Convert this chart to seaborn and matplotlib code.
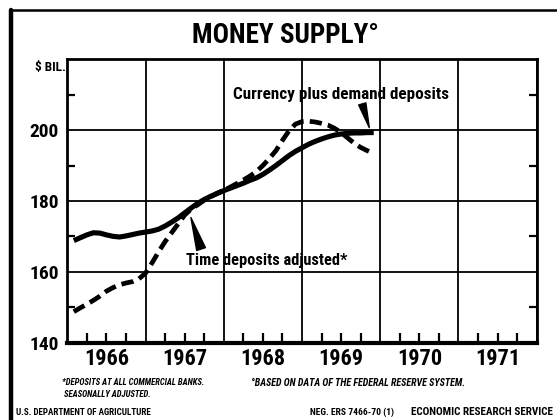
import numpy as np
import pandas as pd
import matplotlib
matplotlib.use("Agg")
import matplotlib.pyplot as plt
import seaborn as sns
from matplotlib.lines import Line2D

# ---------------- data ($ billion, monthly) ----------------
months = pd.date_range("1966-01", "1969-11", freq="MS")
currency_demand = [168.8, 169.6, 170.4, 171.0, 170.9, 170.4, 170.0, 169.8, 170.1, 170.5, 170.9, 171.2,
                   171.5, 172.0, 172.9, 174.0, 175.2, 176.6, 178.0, 179.3, 180.4, 181.3, 182.1, 182.9,
                   183.6, 184.3, 185.0, 185.8, 186.5, 187.5, 188.7, 190.0, 191.4, 192.8, 194.0, 195.0,
                   196.0, 196.8, 197.5, 198.1, 198.6, 198.9, 199.1, 199.2, 199.2, 199.3, 199.3]
time_deposits = [148.7, 149.8, 150.8, 151.9, 153.1, 154.5, 155.5, 156.3, 156.8, 157.2, 158.0, 159.6,
                 162.5, 165.6, 168.5, 171.0, 173.5, 176.0, 177.7, 178.9, 180.2, 181.2, 182.2, 183.0,
                 183.9, 184.9, 185.9, 187.0, 188.3, 190.0, 192.0, 194.2, 197.1, 199.8, 201.7, 202.4,
                 202.5, 202.3, 201.9, 201.4, 200.5, 199.3, 197.8, 196.3, 195.1, 194.2, 193.4]
year_labels = ["1966", "1967", "1968", "1969", "1970", "1971"]
y_labels = [140, 160, 180, 200]

t = months.year + months.month / 12.0
df = pd.DataFrame({"t": t, "currency": currency_demand, "time": time_deposits})

# ---------------- style ----------------
sns.set_theme(style="white")
FONT = ["Roboto Condensed", "DejaVu Sans"]
plt.rcParams["font.family"] = FONT
plt.rcParams["font.weight"] = "bold"
for k in ("text.color", "axes.labelcolor", "xtick.color", "ytick.color"):
    plt.rcParams[k] = "black"

fig = plt.figure(figsize=(5.57, 4.2), dpi=100)
ax = fig.add_axes([0.1208, 0.1845, 0.8428, 0.6743])

sns.lineplot(data=df, x="t", y="currency", ax=ax, color="black", lw=3.7,
             solid_capstyle="butt")
sns.lineplot(data=df, x="t", y="time", ax=ax, color="black", lw=3.4,
             linestyle=(0, (2.6, 1.3)), dash_capstyle="butt")

first_year = int(year_labels[0])
n_years = len(year_labels)
ax.set_xlim(first_year, first_year + n_years)
ax.set_ylim(y_labels[0], y_labels[-1] + 20)

# vertical grid at year boundaries
ax.set_xticks(np.arange(first_year, first_year + n_years + 1))
ax.set_xticklabels([])
ax.tick_params(axis="x", which="major", length=0)
# quarter ticks + year labels in the middle of each year
q_pos, q_lab = [], []
for i, yl in enumerate(year_labels):
    for q in (0.25, 0.5, 0.75):
        q_pos.append(first_year + i + q)
        q_lab.append(yl if q == 0.5 else "")
ax.set_xticks(q_pos, minor=True)
ax.set_xticklabels(q_lab, minor=True, fontsize=16, fontweight="bold")
ax.tick_params(axis="x", which="minor", direction="in", length=7, width=1.6,
               color="black", pad=4, bottom=True, top=False)

ax.set_yticks(y_labels)
ax.set_yticklabels([str(v) for v in y_labels], fontsize=14, fontweight="bold")
ax.tick_params(axis="y", which="major", length=0, pad=6)
ax.set_yticks([150, 170, 190, 210], minor=True)
ax.tick_params(axis="y", which="minor", direction="in", length=6, width=1.6,
               color="black", left=True, right=True)

ax.grid(True, which="major", color="black", lw=1.3)
for s, w in zip(["left", "right", "top", "bottom"], [2.0, 2.0, 2.0, 3.0]):
    ax.spines[s].set_visible(True)
    ax.spines[s].set_color("black")
    ax.spines[s].set_linewidth(w)
ax.set_xlabel("")
ax.set_ylabel("")

# annotations
ax.text(1969.5, 210.0, "Currency plus demand deposits", ha="center", va="center",
        fontsize=12.3, fontweight="bold")
ax.annotate("", xy=(1969.86, 200.7), xytext=(1969.77, 207.4),
            arrowprops=dict(arrowstyle="wedge,tail_width=0.45", fc="black", ec="black",
                            shrinkA=0, shrinkB=0))
ax.text(1968.55, 163.1, "Time deposits adjusted*", ha="center", va="center",
        fontsize=11.8, fontweight="bold")
ax.annotate("", xy=(1967.58, 175.3), xytext=(1967.71, 166.4),
            arrowprops=dict(arrowstyle="wedge,tail_width=0.55", fc="black", ec="black",
                            shrinkA=0, shrinkB=0))

# title and figure texts
fig.text(0.513, 0.915, "MONEY SUPPLY°", ha="center", va="center", fontsize=19.5,
         fontweight=900)
fig.text(0.119, 0.840, "$ BIL.", ha="right", va="center", fontsize=9.5, fontweight="bold")
fig.text(0.112, 0.074, "*DEPOSITS AT ALL COMMERCIAL BANKS.\n SEASONALLY ADJUSTED.",
         ha="left", va="center", fontsize=6.2, fontweight="bold", style="italic",
         linespacing=1.45)
fig.text(0.450, 0.088, "°BASED ON DATA OF THE FEDERAL RESERVE SYSTEM.",
         ha="left", va="center", fontsize=7.2, fontweight="bold", style="italic")
fig.text(0.029, 0.019, "U.S. DEPARTMENT OF AGRICULTURE", ha="left", va="center",
         fontsize=6.5, fontweight="bold")
fig.text(0.556, 0.019, "NEG. ERS 7466-70 (1)", ha="left", va="center",
         fontsize=6.8, fontweight="bold")
fig.text(0.993, 0.019, "ECONOMIC RESEARCH SERVICE", ha="right", va="center",
         fontsize=8.0, fontweight="bold")

# page frame (left and top rules)
fig.add_artist(Line2D([0.020, 0.020], [0.0, 0.977], transform=fig.transFigure,
                      color="black", lw=3.2))
fig.add_artist(Line2D([0.018, 1.0], [0.977, 0.977], transform=fig.transFigure,
                      color="black", lw=1.8))

fig.savefig("out.png", dpi=100, facecolor="white")
